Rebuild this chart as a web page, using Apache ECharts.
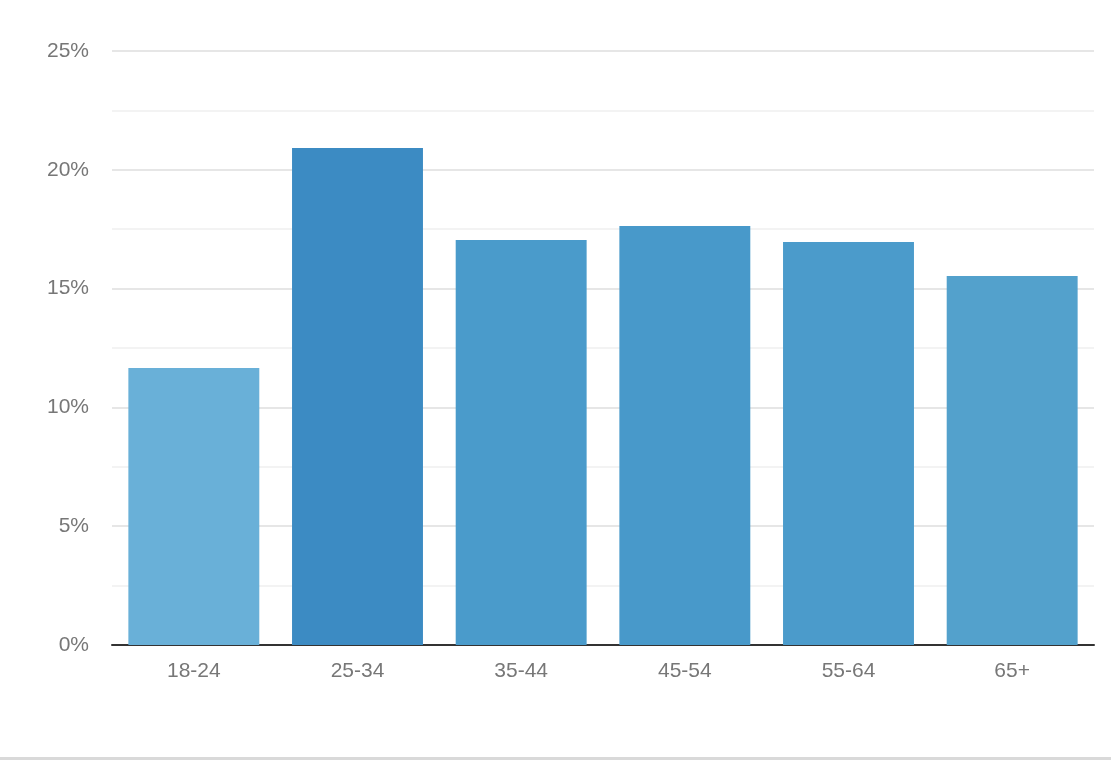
<!DOCTYPE html>
<html><head><meta charset="utf-8">
<script src="https://cdn.jsdelivr.net/npm/echarts@6/dist/echarts.min.js"></script>
<style>html,body{margin:0;padding:0;background:#fff}#c{width:1111px;height:760px}</style>
</head><body><div id="c"></div>
<script>
const categories = ['18-24','25-34','35-44','45-54','55-64','65+'];
const values = [11.66, 20.92, 17.05, 17.63, 16.96, 15.53];
const barColors = ['#69b0d8','#3c8bc3','#4a9bcb','#4899ca','#4b9bcb','#53a1cc'];
const yTicks = [0,5,10,15,20,25];

const chart = echarts.init(document.getElementById('c'));
chart.setOption({
  animation:false,
  grid:{left:112,right:17,top:51,bottom:115,containLabel:false},
  xAxis:{type:'category',data:categories,
    axisLine:{lineStyle:{color:'#333',width:2}},axisTick:{show:false},
    axisLabel:{color:'#777',fontSize:21,fontFamily:'Arial, Liberation Sans, sans-serif',margin:16}},
  yAxis:{type:'value',min:yTicks[0],max:yTicks[yTicks.length-1],interval:5,
    axisLine:{show:false},axisTick:{show:false},
    axisLabel:{color:'#777',fontSize:21,fontFamily:'Arial, Liberation Sans, sans-serif',margin:23,formatter:v=>v+'%'},
    splitLine:{lineStyle:{color:'#e6e6e6',width:2}},
    minorTick:{show:false,splitNumber:2},
    minorSplitLine:{show:true,lineStyle:{color:'#f3f3f3',width:2}}},
  series:[{type:'bar',barCategoryGap:'20%',
    data:values.map((v,i)=>({value:v,itemStyle:{color:barColors[i]}}))}],
  graphic:[{type:'rect',shape:{x:0,y:757,width:1111,height:3},style:{fill:'#d9d9d9'}}]
});
</script></body></html>
